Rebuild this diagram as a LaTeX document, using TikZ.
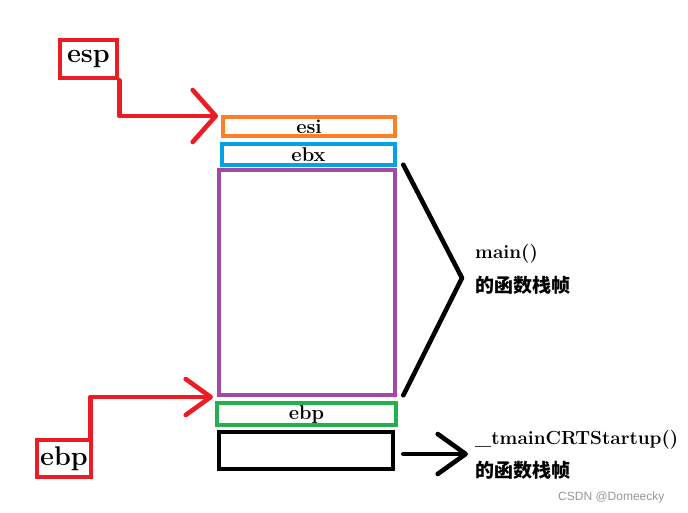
\documentclass[tikz,border=0pt]{standalone}
\usepackage{fontspec}
\newfontfamily\cjk{Noto Sans CJK SC}
\newfontfamily\wm{Liberation Sans}
\usetikzlibrary{arrows.meta}
\definecolor{pred}{RGB}{237,28,36}
\definecolor{porange}{RGB}{255,127,39}
\definecolor{pblue}{RGB}{0,162,232}
\definecolor{ppurple}{RGB}{163,73,164}
\definecolor{pgreen}{RGB}{34,177,76}
\definecolor{wmgray}{RGB}{150,150,150}
\tikzset{
  reg/.style={draw, line width=4.6pt, inner sep=0pt, font=\fontsize{20}{20}\selectfont\bfseries},
  ptr/.style={draw=pred, line width=4.6pt, inner sep=0pt, font=\fontsize{27}{27}\selectfont\bfseries},
  redline/.style={draw=pred, line width=4.6pt, line cap=round, line join=round},
  blkline/.style={draw=black, line width=4.6pt, line cap=round, line join=round},
  lbl/.style={anchor=west, inner sep=0pt, font=\fontsize{19}{19}\selectfont\bfseries},
  clbl/.style={anchor=west, inner sep=0pt, font=\fontsize{19}{19}\selectfont\cjk\bfseries},
}
\begin{document}
\begin{tikzpicture}[x=1pt,y=-1pt]
\useasboundingbox (0,0) rectangle (688,513);
% stack boxes
\node[reg, draw=porange, minimum width=172pt, minimum height=19pt] (esi) at (309,126.5) {esi};
\node[reg, draw=pblue, minimum width=173pt, minimum height=21pt] (ebx) at (308.5,154.5) {ebx};
\node[reg, draw=ppurple, minimum width=176pt, minimum height=225pt] (frame) at (307,282.5) {};
\node[reg, draw=pgreen, minimum width=179pt, minimum height=22pt] (ebpslot) at (306.5,414) {ebp};
\node[reg, draw=black, minimum width=174pt, minimum height=37pt] (caller) at (306,450.5) {};
% pointer labels
\node[ptr, minimum width=57pt, minimum height=38pt] (esp) at (88.5,59) {esp};
\node[ptr, minimum width=54pt, minimum height=37pt] (ebp) at (64,458.5) {ebp};
% pointer arrows
\coordinate (tipa) at (218,116);
\coordinate (tipb) at (213,397);
\draw[redline, -{Straight Barb[length=23pt,width=52pt,line width=4.6pt,round]}] (esp.south east) |- (tipa);
\draw[redline, -{Straight Barb[length=25pt,width=36pt,line width=4.6pt,round]}] ([xshift=-3pt]ebp.north east) |- (tipb);
% bracket
\coordinate (apex) at (462,278);
\draw[blkline] ([xshift=6pt,yshift=3pt]frame.north east) -- (apex) -- ([xshift=6pt,yshift=2pt]frame.south east);
% caller arrow
\coordinate (tipc) at (468,454);
\draw[blkline, -{Straight Barb[length=28pt,width=40pt,line width=4.6pt,round]}] ([xshift=8pt,yshift=-3.5pt]caller.east) -- (tipc);
% labels
\node[lbl] (mainl) at (475,254) {main()};
\node[clbl] (mainc) at (475,285) {的函数栈帧};
\node[lbl] (crtl) at (475,440) {\_tmainCRTStartup()};
\node[clbl] (crtc) at (475,470) {的函数栈帧};
\node[anchor=west, inner sep=0pt, font=\fontsize{12}{12}\selectfont\wm, text=wmgray] (wm) at (558,497) {CSDN @Domeecky};
\end{tikzpicture}
\end{document}
